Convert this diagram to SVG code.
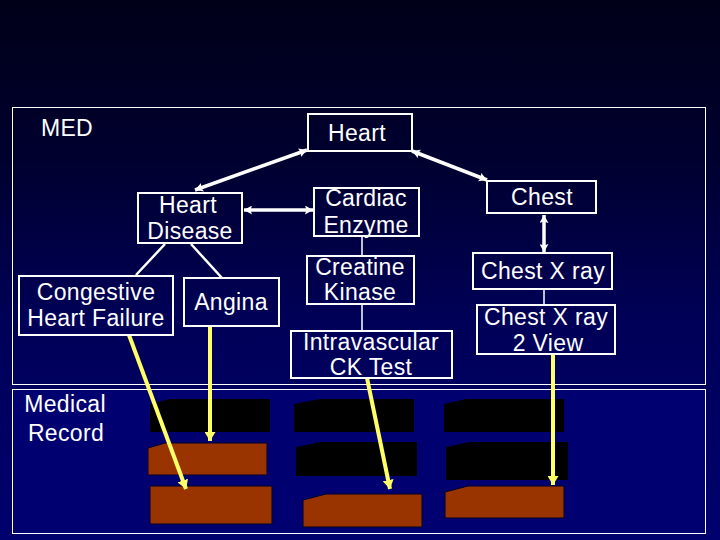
<svg xmlns="http://www.w3.org/2000/svg" width="720" height="540" viewBox="0 0 720 540">
<style>
.box{fill:none;stroke:#fff;stroke-width:2}
.frame{fill:none;stroke:#fff;stroke-width:1}
.t{font-family:"Liberation Sans",Arial,sans-serif;font-size:23px;letter-spacing:.35px;fill:#fff;text-anchor:middle}
.w{stroke:#fff;stroke-width:2.5;fill:none}
.thin{stroke:#fff;stroke-width:1.5;fill:none}
.wa{stroke:#fff;stroke-width:3.5;fill:none;marker-start:url(#wh);marker-end:url(#wh)}
.y{stroke:#ffff66;stroke-width:4;fill:none;marker-end:url(#yh)}
.blk{fill:#000}
.brn{fill:#993300;stroke:#000028;stroke-width:1}
</style>
<defs>
<linearGradient id="bg" x1="0" y1="0" x2="0" y2="1">
<stop offset="0" stop-color="#000018"/>
<stop offset="0.3" stop-color="#000030"/>
<stop offset="0.6" stop-color="#000058"/>
<stop offset="1" stop-color="#00006e"/>
</linearGradient>
<marker id="wh" markerUnits="userSpaceOnUse" markerWidth="9" markerHeight="9" refX="8" refY="4.5" orient="auto-start-reverse"><path d="M0 0L8 4.5L0 9L1.5 4.5z" fill="#fff"/></marker>
<marker id="yh" markerUnits="userSpaceOnUse" markerWidth="10" markerHeight="11" refX="9" refY="5.5" orient="auto"><path d="M0 0L9 5.5L0 11z" fill="#ffff66"/></marker>
</defs>
<rect width="720" height="540" fill="url(#bg)"/>
<rect x="12.5" y="389.5" width="693" height="144" fill="#000070"/>
<g id="frames">
<rect class="frame" x="12.5" y="107.5" width="693" height="277"/>
<rect class="frame" x="12.5" y="389.5" width="693" height="144"/>
</g>
<g id="records">
<path class="blk" d="M150 432V404L170 399H270V432z"/>
<path class="blk" d="M294 432V404L320 399H414V432z"/>
<path class="blk" d="M444 432V404L466 399H564V432z"/>
<path class="blk" d="M296 476V447L320 442H417V476z"/>
<path class="blk" d="M446 480V447L470 442H568V480z"/>
<path class="brn" d="M148 475V448L165 443H267V475z"/>
<path class="brn" d="M150 486H272V524H150z"/>
<path class="brn" d="M303 500L326 494H422V527H303z"/>
<path class="brn" d="M445 492L468 486H564V518H445z"/>
</g>
<g id="connectors">
<path class="wa" d="M195 190L307 150"/>
<path class="wa" d="M412 151L487 180"/>
<path class="wa" d="M244 210H313"/>
<path class="wa" d="M544 215V252"/>
<path class="w" d="M165 244L136 275M191 244L222 278"/>
<path class="thin" d="M362 236V256M362 304V331"/>
<path class="thin" d="M544 289V305"/>
<path class="y" d="M129 335L186 489"/>
<path class="y" d="M210 326V441"/>
<path class="y" d="M367 378L390 489"/>
<path class="y" d="M553 354V485"/>
</g>
<g id="med"><text class="t" x="67" y="136">MED</text></g>
<g id="heart"><rect class="box" x="308" y="114" width="104" height="37"/><text class="t" x="357" y="141">Heart</text></g>
<g id="heart-disease"><rect class="box" x="138" y="193" width="104" height="50"/><text class="t" x="188" y="213">Heart</text><text class="t" x="190" y="239">Disease</text></g>
<g id="congestive"><rect class="box" x="19" y="276" width="154" height="59"/><text class="t" x="96" y="300">Congestive</text><text class="t" x="96" y="326">Heart Failure</text></g>
<g id="angina"><rect class="box" x="184" y="278" width="95" height="48"/><text class="t" x="231" y="310">Angina</text></g>
<g id="cardiac"><rect class="box" x="314" y="188" width="105" height="48"/><text class="t" x="366" y="206">Cardiac</text><text class="t" x="366" y="233">Enzyme</text></g>
<g id="creatine"><rect class="box" x="307" y="256" width="107" height="48"/><text class="t" x="360" y="275">Creatine</text><text class="t" x="360" y="300">Kinase</text></g>
<g id="ck-test"><rect class="box" x="291" y="331" width="161" height="47"/><text class="t" x="371" y="350">Intravascular</text><text class="t" x="371" y="375">CK Test</text></g>
<g id="chest"><rect class="box" x="487" y="181" width="109" height="32"/><text class="t" x="542" y="205">Chest</text></g>
<g id="chest-xray"><rect class="box" x="473" y="253" width="139" height="36"/><text class="t" x="543" y="279">Chest X ray</text></g>
<g id="chest-xray-2"><rect class="box" x="477" y="305" width="138" height="49"/><text class="t" x="546" y="325">Chest X ray</text><text class="t" x="548" y="351">2 View</text></g>
<g id="medical-record"><text class="t" x="65" y="412">Medical</text><text class="t" x="66" y="441">Record</text></g>
</svg>
